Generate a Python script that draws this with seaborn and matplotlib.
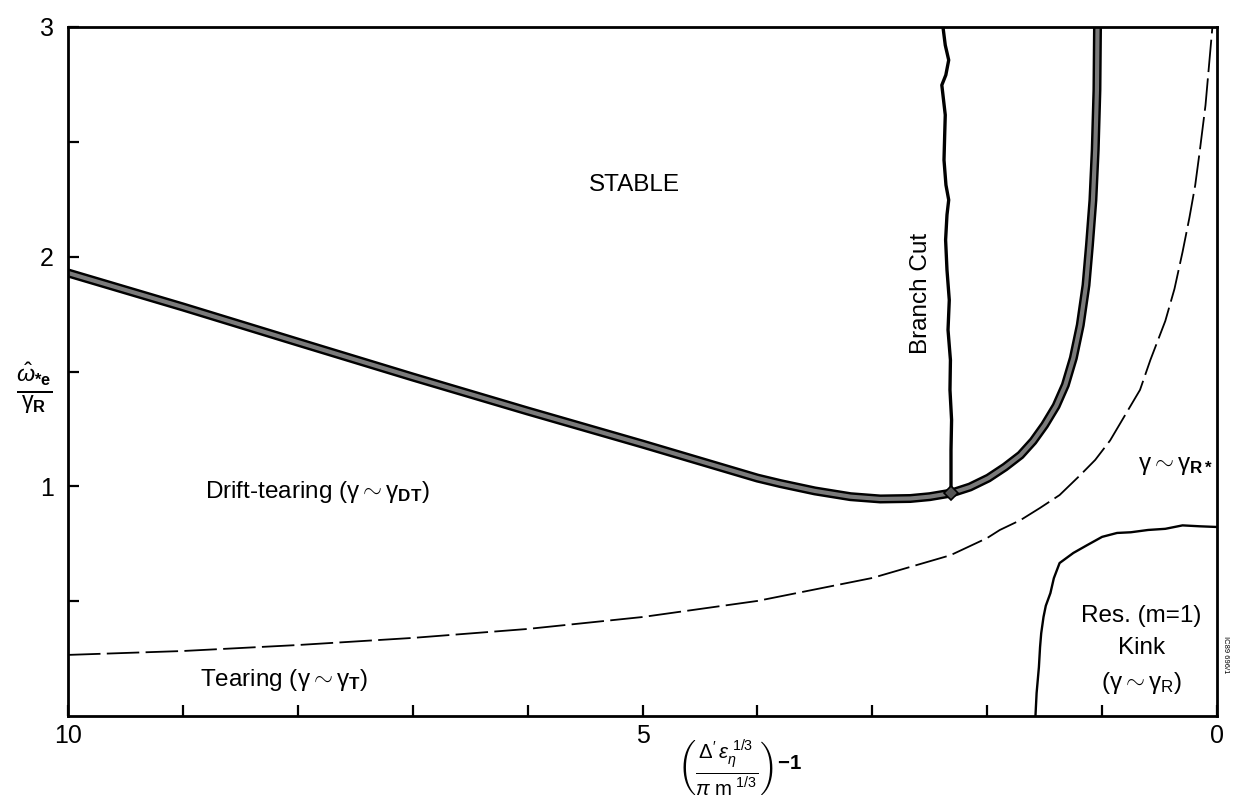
import matplotlib
matplotlib.use("Agg")
import matplotlib.pyplot as plt
import seaborn as sns
import pandas as pd

# ---- data ----
thick_x = [10, 9, 8, 7, 6, 5, 4.5, 4.0, 3.8, 3.5, 3.19, 2.93, 2.67, 2.50, 2.31, 2.15, 1.99, 1.845, 1.71,
           1.60, 1.50, 1.40, 1.32, 1.25, 1.19, 1.14, 1.11, 1.08, 1.06, 1.045, 1.04]
thick_y = [1.929, 1.781, 1.628, 1.476, 1.328, 1.184, 1.110, 1.036, 1.012, 0.980, 0.955, 0.945, 0.947,
           0.955, 0.971, 0.997, 1.036, 1.084, 1.136, 1.197, 1.267, 1.350, 1.441, 1.559, 1.702, 1.876,
           2.050, 2.246, 2.464, 2.725, 3.0]

dash_x = [10, 9, 8, 7, 6, 5, 4, 3, 2.32, 2.0, 1.89, 1.71, 1.54, 1.37, 1.19, 1.06, 0.93, 0.80, 0.67,
          0.58, 0.45, 0.37, 0.30, 0.24, 0.19, 0.15, 0.10, 0.04]
dash_y = [0.266, 0.283, 0.309, 0.340, 0.379, 0.431, 0.501, 0.601, 0.70, 0.775, 0.81, 0.853, 0.906,
          0.962, 1.049, 1.115, 1.20, 1.31, 1.42, 1.55, 1.72, 1.86, 2.02, 2.17, 2.31, 2.46, 2.66, 3.0]

branch_x = [2.385, 2.365, 2.335, 2.360, 2.395, 2.380, 2.365, 2.370, 2.376, 2.359, 2.335, 2.350, 2.362,
            2.350, 2.330, 2.341, 2.320, 2.324, 2.310, 2.315, 2.315, 2.315]
branch_y = [3.0, 2.921, 2.856, 2.791, 2.747, 2.682, 2.617, 2.530, 2.421, 2.312, 2.247, 2.182, 2.073,
            1.942, 1.811, 1.681, 1.550, 1.420, 1.289, 1.158, 1.028, 0.972]

kink_x = [0.0, 0.15, 0.3, 0.45, 0.6, 0.75, 0.87, 1.0, 1.13, 1.25, 1.37, 1.42, 1.45, 1.49, 1.51, 1.53,
          1.54, 1.55, 1.57, 1.58]
kink_y = [0.823, 0.826, 0.83, 0.815, 0.81, 0.80, 0.797, 0.78, 0.744, 0.71, 0.666, 0.60, 0.535, 0.48,
          0.431, 0.36, 0.30, 0.213, 0.10, 0.0]

x_ticks = [10, 9, 8, 7, 6, 5, 4, 3, 2, 1, 0]
x_labels = ["10", "", "", "", "", "5", "", "", "", "", "0"]
y_ticks = [0.5, 1, 1.5, 2, 2.5, 3]
y_labels = ["", "1", "", "2", "", "3"]

sns.set_style("white")
plt.rcParams['font.family'] = ['Liberation Sans', 'DejaVu Sans']
plt.rcParams['mathtext.fontset'] = 'custom'
plt.rcParams['mathtext.rm'] = 'Liberation Sans'
plt.rcParams['mathtext.it'] = 'Liberation Sans:italic'
plt.rcParams['mathtext.bf'] = 'Liberation Sans:bold'
plt.rcParams['text.color'] = 'black'

fig = plt.figure(figsize=(12.33, 8.02), dpi=100)
ax = fig.add_axes([68 / 1233, 86 / 802, 1149 / 1233, 689 / 802])

thick = pd.DataFrame({"x": thick_x, "y": thick_y})
dash = pd.DataFrame({"x": dash_x, "y": dash_y})
branch = pd.DataFrame({"x": branch_x, "y": branch_y})
kink = pd.DataFrame({"x": kink_x, "y": kink_y})

sns.lineplot(data=thick, x="x", y="y", sort=False, estimator=None, color="black", lw=6.5, ax=ax,
             solid_capstyle="butt", solid_joinstyle="round")
sns.lineplot(data=thick, x="x", y="y", sort=False, estimator=None, color="#7a7a7a", lw=3.0, ax=ax,
             solid_capstyle="butt", solid_joinstyle="round")
sns.lineplot(data=dash, x="x", y="y", sort=False, estimator=None, color="black", lw=1.3, ax=ax)
ax.lines[-1].set_dashes([18, 3.5])
sns.lineplot(data=branch, x="x", y="y", sort=False, estimator=None, color="black", lw=2.4, ax=ax,
             solid_joinstyle="round")
ax.plot([branch_x[-1]], [branch_y[-1]], marker="D", color="#555555", mec="black", ms=7, mew=1.2)
sns.lineplot(data=kink, x="x", y="y", sort=False, estimator=None, color="black", lw=1.7, ax=ax)

ax.set_xlim(10, 0)
ax.set_ylim(0, 3)
ax.set_xticks(x_ticks)
ax.set_xticklabels(x_labels)
ax.set_yticks(y_ticks)
ax.set_yticklabels(y_labels)
ax.tick_params(axis="both", direction="in", length=8, width=1.6, labelsize=18, colors="black",
               bottom=True, left=True, top=False, right=False)
ax.tick_params(axis="x", pad=6)
ax.tick_params(axis="y", pad=10)
for s in ax.spines.values():
    s.set_color("black")
    s.set_linewidth(2)
ax.set_xlabel("")
ax.set_ylabel("")

fs = 17.5
g = r"\mathrm{\gamma}"
ax.text(5.07, 2.31, "STABLE", fontsize=fs, ha="center", va="center")
ax.text(2.58, 1.84, "Branch Cut", fontsize=fs, ha="center", va="center", rotation=90)
ax.text(8.81, 0.975, r"Drift-tearing ($" + g + r" \sim " + g + r"_{\mathbf{DT}}$)", fontsize=fs,
        ha="left", va="center")
ax.text(8.85, 0.157, r"Tearing ($" + g + r" \sim " + g + r"_{\mathbf{T}}$)", fontsize=fs, ha="left",
        va="center")
ax.text(0.69, 1.09, r"$" + g + r" \sim " + g + r"_{\mathbf{R*}}$", fontsize=fs, ha="left",
        va="center")
ax.text(0.66, 0.285, "Res. (m=1)\nKink\n" + r"($" + g + r" \sim " + g + r"_{\mathrm{R}}$)",
        fontsize=fs, ha="center", va="center", linespacing=1.6)

ax.text(-0.029, 0.476, r"$\frac{\hat{\omega}_{\mathbf{*e}}}{" + g + r"_{\mathbf{R}}}$",
        transform=ax.transAxes, fontsize=24, ha="center", va="center")
ax.text(0.585, -0.0755,
        r"$\left(\frac{\Delta^{\prime}\,\epsilon_{\eta}^{\ 1/3}}{\pi\ \mathrm{m}^{\ 1/3}}\right)^{\mathbf{-1}}$",
        transform=ax.transAxes, fontsize=21, ha="center", va="center")
fig.text(1225 / 1233, 1 - 655 / 802, "IC89 696/1", fontsize=5.5, rotation=270, ha="center",
         va="center")

fig.savefig("out.png", dpi=100, facecolor="white")
